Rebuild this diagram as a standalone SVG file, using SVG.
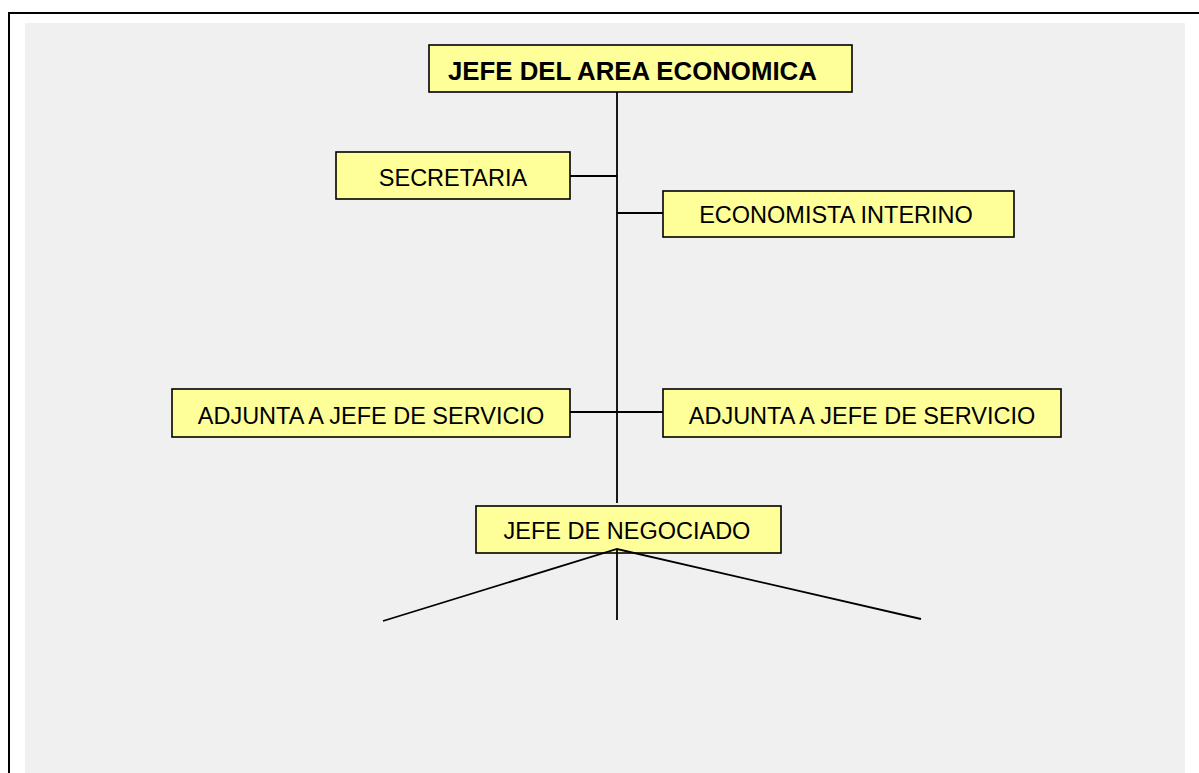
<svg xmlns="http://www.w3.org/2000/svg" width="1199" height="773" viewBox="0 0 1199 773">
<style>
.box{fill:#FFFF99;stroke:#000;stroke-width:1.6}
.lbl{font-family:"Liberation Sans",Arial,sans-serif;font-size:23.5px;fill:#000;text-anchor:middle}
.ttl{font-family:"Liberation Sans",Arial,sans-serif;font-size:25.8px;font-weight:bold;fill:#000}
.ln{stroke:#000;stroke-width:1.8;fill:none}
</style>
<rect x="0" y="0" width="1199" height="773" fill="#fff"/>
<path d="M9 773 V13 H1199" fill="none" stroke="#000" stroke-width="2"/>
<rect x="25" y="23" width="1160" height="750" fill="#F0F0F0"/>
<g id="jefe-area">
<rect class="box" x="429" y="45" width="423" height="47"/>
<text class="ttl" x="448" y="80">JEFE DEL AREA ECONOMICA</text>
</g>
<g id="secretaria">
<rect class="box" x="336" y="152" width="234" height="47"/>
<text class="lbl" x="453" y="186">SECRETARIA</text>
</g>
<g id="economista">
<rect class="box" x="663" y="191" width="351" height="46"/>
<text class="lbl" x="836" y="223">ECONOMISTA INTERINO</text>
</g>
<g id="adjunta-izq">
<rect class="box" x="172" y="389" width="398" height="48"/>
<text class="lbl" x="371" y="424">ADJUNTA A JEFE DE SERVICIO</text>
</g>
<g id="adjunta-der">
<rect class="box" x="663" y="389" width="398" height="48"/>
<text class="lbl" x="862" y="424">ADJUNTA A JEFE DE SERVICIO</text>
</g>
<g id="jefe-negociado">
<rect class="box" x="476" y="506" width="305" height="47"/>
<text class="lbl" x="627" y="539">JEFE DE NEGOCIADO</text>
</g>
<g id="connectors">
<line class="ln" x1="617" y1="92" x2="617" y2="503"/>
<line class="ln" x1="570" y1="176" x2="617" y2="176"/>
<line class="ln" x1="617" y1="213" x2="663" y2="213"/>
<line class="ln" x1="570" y1="412" x2="663" y2="412"/>
<line class="ln" x1="617" y1="549" x2="617" y2="620"/>
<polyline class="ln" points="383,621 617,549 921,619"/>
</g>
</svg>
